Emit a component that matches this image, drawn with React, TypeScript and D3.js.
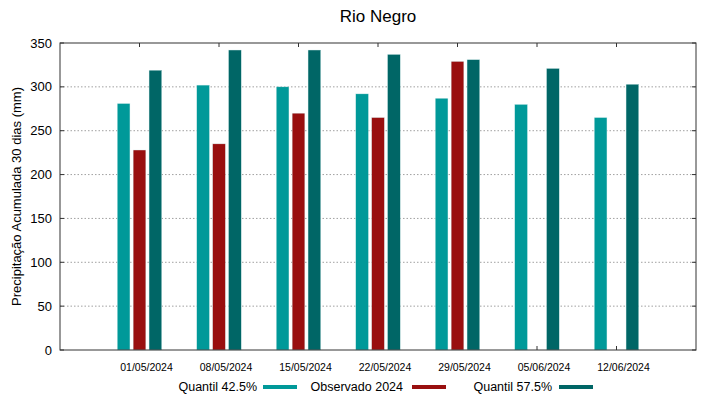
import React from 'react';
import * as d3 from 'd3';

const dates = ['01/05/2024', '08/05/2024', '15/05/2024', '22/05/2024', '29/05/2024', '05/06/2024', '12/06/2024'];
const quantil425 = [281, 302, 300, 292, 287, 280, 265];
const observado2024: (number | null)[] = [228, 235, 270, 265, 329, null, null];
const quantil575 = [319, 342, 342, 337, 331, 321, 303];
const yTicks = [0, 50, 100, 150, 200, 250, 300, 350];

const series = [
    { label: 'Quantil 42.5%', values: quantil425, color: '#009999', offset: -0.2 },
    { label: 'Observado 2024', values: observado2024, color: '#990f0f', offset: 0 },
    { label: 'Quantil 57.5%', values: quantil575, color: '#006666', offset: 0.2 },
];

const width = 719;
const height = 399;
const margin = { top: 43, right: 23, bottom: 49, left: 60 };
const font = '"Liberation Sans", Arial, sans-serif';

export default function App() {
    const x = d3.scaleLinear().domain([-1, 7]).range([margin.left, width - margin.right]);
    const y = d3.scaleLinear().domain([0, 350]).range([height - margin.bottom, margin.top]);
    const barW = x(0.16) - x(0);
    const left = margin.left;
    const right = width - margin.right;
    const top = margin.top;
    const bottom = height - margin.bottom;

    // legend layout: text then swatch
    const legendItems = [
        { textEnd: 257, swatch: 263 },
        { textEnd: 403, swatch: 412 },
        { textEnd: 552, swatch: 559 },
    ];

    return (
        <svg width={width} height={height} style={{ position: 'absolute', left: 0, top: 0, background: '#fff' }} fontFamily={font}>
            <rect x={0} y={0} width={width} height={height} fill="#fff" />
            <text x={(left + right) / 2} y={22} textAnchor="middle" fontSize={17} fill="#000">Rio Negro</text>

            {/* grid */}
            {yTicks.filter((t) => t > 0 && t < 350).map((t) => (
                <line key={'g' + t} x1={left} x2={right} y1={y(t)} y2={y(t)} stroke="#a0a0a0" strokeWidth={1} strokeDasharray="1.5,2" />
            ))}
            {yTicks.map((t) => (
                <g key={'yt' + t}>
                    <line x1={left} x2={left + 4} y1={y(t)} y2={y(t)} stroke="#333" />
                    <line x1={right - 4} x2={right} y1={y(t)} y2={y(t)} stroke="#333" />
                    <text x={52} y={y(t) + 4.5} textAnchor="end" fontSize={13} fill="#000">{t}</text>
                </g>
            ))}
            {dates.map((d, i) => (
                <g key={'xt' + i}>
                    <line x1={x(i)} x2={x(i)} y1={top} y2={top + 4} stroke="#333" />
                    <line x1={x(i)} x2={x(i)} y1={bottom} y2={bottom - 4} stroke="#333" />
                    <text x={x(i) + 7} y={371} textAnchor="middle" fontSize={10.5} fill="#000">{d}</text>
                </g>
            ))}

            {/* bars */}
            {series.map((s) => s.values.map((v, i) => v == null ? null : (
                <rect key={s.label + i} x={x(i + s.offset) - barW / 2} y={y(v)} width={barW} height={y(0) - y(v)} fill={s.color} stroke="#d8eeee" strokeWidth={0.4} />
            )))}

            <rect x={left} y={top} width={right - left} height={bottom - top} fill="none" stroke="#333" strokeWidth={1} />

            <text transform={`translate(21, ${(top + bottom) / 2}) rotate(-90)`} textAnchor="middle" fontSize={13} fill="#000">
                Precipitação Acumulada 30 dias (mm)
            </text>

            {/* legend */}
            {series.map((s, i) => (
                <g key={'lg' + i}>
                    <text x={legendItems[i].textEnd} y={391} textAnchor="end" fontSize={12.5} fill="#000">{s.label}</text>
                    <rect x={legendItems[i].swatch} y={385} width={34} height={4} fill={s.color} />
                </g>
            ))}
        </svg>
    );
}
